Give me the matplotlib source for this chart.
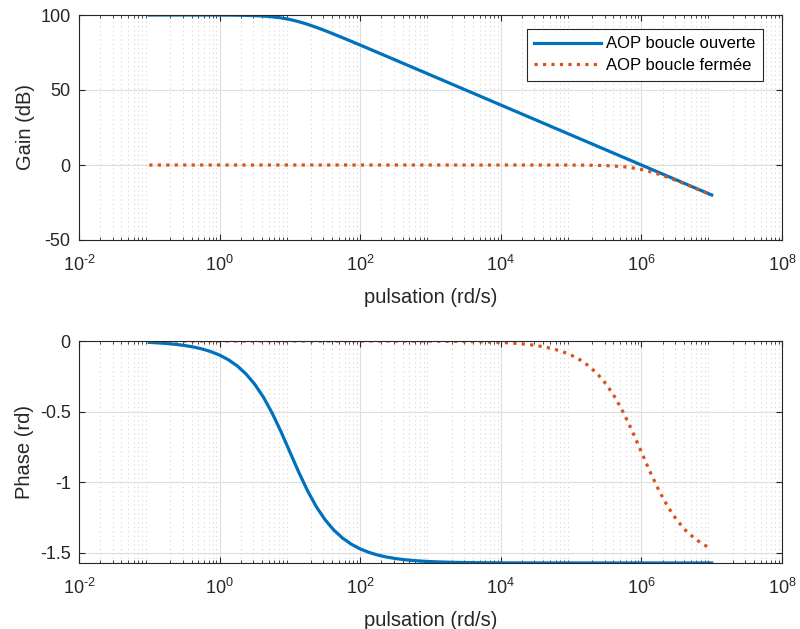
import matplotlib
matplotlib.use("Agg")
import matplotlib.pyplot as plt
import matplotlib.ticker as mticker

plt.rcParams['font.family'] = ['Liberation Sans', 'DejaVu Sans']
plt.rcParams['mathtext.fontset'] = 'custom'
plt.rcParams['mathtext.rm'] = 'Liberation Sans'
plt.rcParams['axes.unicode_minus'] = False

# pulsation (rd/s), eighth-decade points from 1e-1 to 1e7
w = [10 ** (e / 8) for e in range(-8, 57)]

gain_open = [100.00, 100.00, 100.00, 100.00, 100.00, 99.99, 99.99, 99.98, 99.96,
             99.92, 99.86, 99.76, 99.59, 99.29, 98.81, 98.06, 96.99,
             95.56, 93.81, 91.79, 89.59, 87.26, 84.86, 82.42, 79.96,
             77.48, 74.99, 72.49, 70.00,
             67.5, 65.0, 62.5, 60.0, 57.5, 55.0, 52.5, 50.0, 47.5, 45.0, 42.5,
             40.0, 37.5, 35.0, 32.5, 30.0, 27.5, 25.0, 22.5, 20.0, 17.5, 15.0,
             12.5, 10.0, 7.5, 5.0, 2.5, 0.0, -2.5, -5.0, -7.5, -10.0, -12.5,
             -15.0, -17.5, -20.0]
gain_closed = [0.0] * 40 + [
    0.00, 0.00, 0.00, 0.00, 0.00, -0.01, -0.01, -0.02, -0.04, -0.08, -0.14,
    -0.24, -0.41, -0.71, -1.19, -1.94, -3.01, -4.44, -6.19, -8.21, -10.41,
    -12.74, -15.14, -17.58, -20.04]

phase_open = [-0.0100, -0.0133, -0.0178, -0.0237, -0.0316, -0.0421, -0.0562,
              -0.0749, -0.0997, -0.1326, -0.1760, -0.2328, -0.3063, -0.3988,
              -0.5124, -0.6435, -0.7854,
              -0.9273, -1.0584, -1.1720, -1.2645, -1.3380, -1.3948, -1.4382,
              -1.4711, -1.4959, -1.5146, -1.5287, -1.5392, -1.5471, -1.5530,
              -1.5575, -1.5608,
              -1.5633, -1.5652, -1.5666, -1.5676, -1.5684, -1.5690, -1.5695,
              -1.5698,
              -1.5700, -1.5702, -1.5703, -1.5704, -1.5705, -1.5706, -1.5706,
              -1.5707,
              -1.5707, -1.5707, -1.5707, -1.5707] + [-1.5708] * 12
phase_closed = [0.0] * 29 + [
    -0.0004, -0.0006, -0.0007, -0.0010, -0.0013, -0.0018, -0.0024, -0.0032,
    -0.0042, -0.0056, -0.0075,
    -0.0100, -0.0133, -0.0178, -0.0237, -0.0316, -0.0421, -0.0562, -0.0749,
    -0.0997, -0.1326, -0.1760, -0.2328, -0.3063, -0.3988, -0.5124, -0.6435,
    -0.7854, -0.9273, -1.0584, -1.1720, -1.2645, -1.3380, -1.3948, -1.4382,
    -1.4711]

x_ticks = [1e-2, 1e0, 1e2, 1e4, 1e6, 1e8]
x_ticklabels = [r'$\mathdefault{10^{\text{-}2}}$', r'$\mathdefault{10^{0}}$',
                r'$\mathdefault{10^{2}}$', r'$\mathdefault{10^{4}}$',
                r'$\mathdefault{10^{6}}$', r'$\mathdefault{10^{8}}$']

blue = '#0072BD'
orange = '#D95319'
dark = '#262626'

fig = plt.figure(figsize=(8, 6.29), dpi=100)
ax1 = fig.add_axes([79 / 800, 1 - 240 / 629, 703 / 800, 225 / 629])
ax2 = fig.add_axes([79 / 800, 1 - 563 / 629, 703 / 800, 222 / 629])


def style(ax):
    ax.set_xscale('log')
    ax.set_xlim(1e-2, 1e8)
    ax.xaxis.set_major_locator(mticker.FixedLocator(x_ticks))
    ax.xaxis.set_major_formatter(mticker.FixedFormatter(x_ticklabels))
    ax.xaxis.set_minor_locator(mticker.LogLocator(base=10, subs=range(2, 10), numticks=30))
    ax.xaxis.set_minor_formatter(mticker.NullFormatter())
    ax.grid(True, which='major', color='#dedede', linewidth=0.8)
    ax.grid(True, which='minor', axis='x', color='#d4d4d4', linestyle=(0, (1, 3)), linewidth=0.8)
    ax.tick_params(which='both', direction='in', top=True, right=True,
                   labelsize=13, colors=dark)
    ax.tick_params(which='major', length=4)
    ax.tick_params(which='minor', length=2)
    ax.tick_params(axis='x', pad=11)
    ax.tick_params(axis='y', pad=6)
    for s in ax.spines.values():
        s.set_color(dark)
        s.set_linewidth(0.8)
    ax.set_axisbelow(True)
    ax.set_xlabel('pulsation (rd/s)', fontsize=14.5, color=dark, labelpad=9)


ax1.plot(w, gain_open, color=blue, linewidth=2.3, label='AOP boucle ouverte')
ax1.plot(w, gain_closed, color=orange, linewidth=2.3, linestyle=':', label='AOP boucle fermée')
style(ax1)
ax1.set_ylim(-50, 100)
ax1.set_yticks([-50, 0, 50, 100])
ax1.set_ylabel('Gain (dB)', fontsize=14.5, color=dark, labelpad=4)
leg = ax1.legend(loc='upper right', bbox_to_anchor=(1 - 19 / 703, 1 - 14 / 225),
                 fontsize=12, fancybox=False, framealpha=1,
                 edgecolor=dark, handlelength=4.0, handletextpad=0.3,
                 borderaxespad=0, borderpad=0.45, labelspacing=0.4)
leg.get_frame().set_linewidth(0.8)

ax2.plot(w, phase_open, color=blue, linewidth=2.3)
ax2.plot(w, phase_closed, color=orange, linewidth=2.3, linestyle=':')
style(ax2)
ax2.set_ylim(-1.5708, 0)
ax2.set_yticks([-1.5, -1, -0.5, 0])
ax2.set_yticklabels(['-1.5', '-1', '-0.5', '0'])
ax2.set_ylabel('Phase (rd)', fontsize=14.5, color=dark, labelpad=4)

fig.savefig('out.png', dpi=100)
